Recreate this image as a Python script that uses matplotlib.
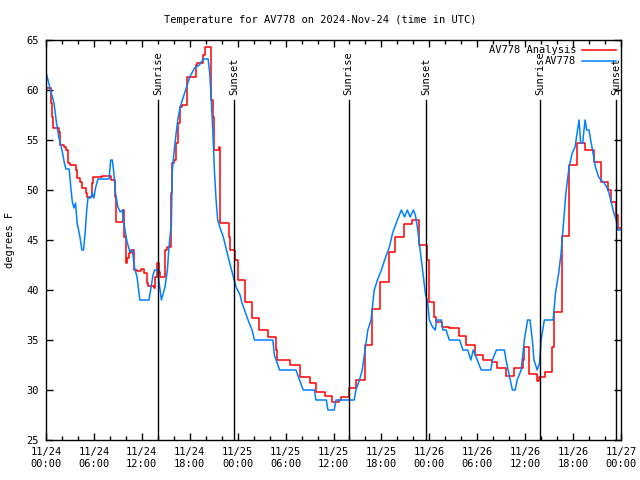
import matplotlib
matplotlib.use("Agg")
import matplotlib.pyplot as plt
from matplotlib.ticker import MultipleLocator

# hours since 11/24 00:00 UTC
obs_hours = [0.0, 0.5, 1.0, 1.3, 1.6, 2.0, 2.3, 2.5, 2.9, 3.1, 3.3, 3.5, 3.7, 3.9, 4.25,
             4.5, 4.7, 4.9, 5.1, 5.25, 5.6, 5.8, 6.0, 6.2, 6.5, 7.9, 8.1, 8.3, 8.5, 8.7,
             9.0, 9.3, 9.6, 9.75, 10.1, 10.5, 10.8, 11.1, 11.4, 11.75, 12.9, 13.1, 13.4,
             13.6, 14.0, 14.2, 14.45, 14.9, 15.2, 15.4, 15.7, 15.8, 15.9, 16.1, 16.3, 16.5,
             16.8, 17.2, 17.6, 18.0, 18.6, 19.2, 19.7, 20.3, 20.5, 20.7, 20.9, 21.1, 21.3,
             21.5, 21.8, 22.2, 22.6, 23.0, 23.4, 23.8, 24.3, 24.5, 25.3, 25.8, 26.1, 28.4,
             28.6, 29.25, 31.3, 31.75, 32.2, 33.6, 33.8, 35.1, 35.3, 36.1, 36.3, 38.6, 38.8,
             39.25, 39.6, 39.9, 40.3, 40.7, 41.1, 41.5, 42.0, 42.4, 43.0, 43.4, 44.0, 44.5,
             44.9, 45.25, 45.6, 46.0, 46.25, 46.5, 46.8, 47.2, 47.5, 47.8, 48.0, 48.4, 48.75,
             48.9, 49.5, 49.7, 50.1, 50.5, 51.8, 52.2, 52.8, 53.2, 53.5, 54.0, 54.5, 55.7,
             55.9, 56.4, 57.4, 57.6, 58.0, 58.4, 58.75, 59.0, 59.5, 59.9, 60.3, 60.6, 60.9,
             61.1, 61.5, 61.8, 62.0, 62.4, 63.5, 63.8, 64.2, 64.5, 64.7, 64.9, 65.1, 65.3,
             65.5, 65.9, 66.25, 66.5, 66.75, 66.95, 67.2, 67.5, 67.7, 68.0, 68.2, 68.5, 68.8,
             69.2, 69.5, 69.9, 70.2, 70.5, 70.8, 71.1, 71.4, 71.6, 71.9]
obs_temps = [61.8, 60.2, 58.7, 56.8, 55.3, 54.0, 52.7, 52.1, 52.1, 50.3, 48.8, 48.2, 48.7, 46.7, 45.3,
             44.0, 44.0, 45.7, 48.0, 49.2, 49.2, 49.7, 49.2, 50.2, 51.1, 51.1, 53.0, 53.0, 51.7, 49.7,
             48.3, 47.8, 48.0, 46.7, 45.0, 43.8, 44.0, 42.2, 41.3, 39.0, 39.0, 40.0, 41.5,
             42.0, 42.0, 40.5, 39.0, 40.3, 42.0, 44.3, 46.7, 51.7, 52.7, 54.3, 55.7, 57.0,
             58.3, 59.3, 60.3, 61.3, 62.2, 62.5, 63.1, 63.1, 61.7, 59.0, 55.7, 51.7, 49.0,
             47.0, 46.2, 45.3, 44.0, 42.7, 41.5, 40.3, 39.5, 38.8, 37.0, 36.0, 35.0, 35.0,
             33.5, 32.0, 32.0, 31.0, 30.0, 30.0, 29.0, 29.0, 28.0, 28.0, 29.0, 29.0, 30.0,
             31.0, 32.0, 33.7, 36.0, 37.0, 40.0, 41.0, 42.0, 43.0, 44.3, 45.7, 47.0, 48.0,
             47.3, 48.0, 47.3, 48.0, 47.5, 46.3, 44.3, 41.7, 39.7, 38.7, 37.0, 36.3, 36.0,
             37.0, 37.0, 36.0, 36.0, 35.0, 35.0, 34.0, 34.0, 33.0, 34.0, 33.0, 32.0, 32.0,
             33.0, 34.0, 34.0, 33.0, 31.5, 30.0, 30.0, 31.0, 32.0, 35.0, 37.0, 37.0, 35.0,
             33.0, 32.0, 32.7, 35.0, 37.0, 37.0, 39.7, 41.7, 43.7, 45.7, 47.7, 49.7, 51.0,
             52.3, 53.7, 54.3, 55.7, 57.0, 54.7, 54.7, 57.0, 56.0, 56.0, 55.0, 53.7, 52.3,
             51.3, 51.0, 50.7, 50.3, 49.7, 48.7, 47.7, 47.0, 46.0, 46.0]

ana_hours = [0.0, 0.6, 0.8, 0.9, 1.6, 1.8, 2.2, 2.5, 2.75, 3.0, 3.7, 3.9, 4.25, 4.5, 5.0,
             5.1, 5.8, 5.9, 7.0, 8.1, 8.7, 8.8, 9.6, 9.75, 10.0, 10.2, 10.4, 10.7, 11.0,
             11.4, 11.9, 12.25, 12.6, 12.75, 13.5, 13.7, 13.9, 14.2, 14.3, 14.9, 15.1, 15.7,
             15.8, 16.0, 16.3, 16.5, 16.75, 17.0, 17.6, 18.75, 18.9, 19.7, 19.9, 20.6, 20.7,
             20.9, 21.0, 21.6, 21.75, 21.8, 22.9, 23.1, 23.7, 24.1, 24.9, 25.8, 26.7, 27.8,
             28.75, 28.9, 30.5, 31.8, 33.0, 33.8, 34.9, 35.8, 36.75, 36.9, 37.9, 38.8, 39.9,
             40.8, 41.8, 42.9, 43.75, 44.8, 45.8, 46.75, 47.7, 48.0, 48.6, 48.8, 49.6, 50.5,
             51.75, 52.6, 53.75, 54.7, 55.9, 56.5, 57.6, 58.6, 59.7, 59.8, 60.5, 61.5, 61.7,
             62.5, 63.4, 63.6, 64.6, 65.5, 66.5, 67.5, 68.6, 69.5, 70.4, 70.7, 71.4, 71.6, 72.0]
ana_temps = [60.2, 58.7, 57.3, 56.2, 55.8, 54.5, 54.3, 54.0, 52.7, 52.5, 52.0, 51.2, 50.8, 50.2, 49.7,
             49.3, 50.7, 51.3, 51.4, 51.0, 49.3, 46.8, 48.0, 45.3, 42.7, 43.2, 43.7, 44.0, 42.0,
             41.9, 42.1, 41.7, 40.7, 40.4, 40.2, 41.3, 42.7, 41.8, 41.3, 44.0, 44.3, 49.7,
             52.7, 53.0, 54.7, 56.7, 58.3, 58.5, 61.3, 62.5, 62.7, 63.5, 64.3, 61.7, 59.0,
             57.3, 54.0, 54.3, 50.3, 46.7, 45.3, 44.0, 43.0, 41.0, 38.8, 37.2, 36.0, 35.3,
             34.0, 33.0, 32.5, 31.3, 30.7, 29.8, 29.4, 28.8, 29.0, 29.3, 30.2, 31.0, 34.5,
             38.1, 40.8, 43.8, 45.3, 46.6, 47.0, 44.5, 43.0, 38.8, 37.3, 36.8, 36.3, 36.2,
             35.4, 34.5, 33.5, 33.0, 32.8, 32.2, 31.4, 32.2, 33.0, 34.3, 31.6, 30.9, 31.3,
             31.8, 34.3, 37.8, 45.4, 52.5, 54.7, 54.0, 52.8, 50.8, 50.0, 48.8, 47.5, 46.2, 46.2]

sun_hours = [14.0, 23.56, 37.9, 47.6, 61.9, 71.4]
sun_labels = ["Sunrise", "Sunset", "Sunrise", "Sunset", "Sunrise", "Sunset"]

tick_hours = list(range(0, 73, 6))
tick_labels = ["11/24\n00:00", "11/24\n06:00", "11/24\n12:00", "11/24\n18:00",
               "11/25\n00:00", "11/25\n06:00", "11/25\n12:00", "11/25\n18:00",
               "11/26\n00:00", "11/26\n06:00", "11/26\n12:00", "11/26\n18:00",
               "11/27\n00:00"]

plt.rcParams['font.family'] = ['DejaVu Sans Mono']
plt.rcParams['font.size'] = 7.5

fig = plt.figure(figsize=(6.4, 4.8), dpi=100)
ax = fig.add_axes([46/640, 40/480, 575/640, 400/480])

ax.plot(ana_hours, ana_temps, color='#ff0000', lw=1.1, drawstyle='steps-post',
        label='AV778 Analysis')
ax.plot(obs_hours, obs_temps, color='#0080ff', lw=1.1, label='AV778')

for h, lab in zip(sun_hours, sun_labels):
    ax.plot([h, h], [25, 59], color='black', lw=1)
    ax.text(h, 59.5, lab, rotation=90, ha='center', va='bottom', fontsize=7.5)

ax.set_xlim(0, 72)
ax.set_ylim(25, 65)
ax.set_xticks(tick_hours)
ax.set_xticklabels(tick_labels)
ax.xaxis.set_minor_locator(MultipleLocator(2))
ax.yaxis.set_major_locator(MultipleLocator(5))
ax.tick_params(which='both', direction='in', top=True, right=True, width=1)
ax.tick_params(which='major', length=5, pad=5)
ax.tick_params(which='minor', length=3)
for s in ax.spines.values():
    s.set_linewidth(1)

ax.set_ylabel('degrees F', labelpad=8)
fig.text(0.5, 1 - 20/480, 'Temperature for AV778 on 2024-Nov-24 (time in UTC)',
         ha='center', va='center', fontsize=7.5)

leg = ax.legend(loc='upper right', frameon=False, markerfirst=False, handlelength=3.2,
                borderaxespad=0.1, labelspacing=0.1, handletextpad=0.6)
for t in leg.get_texts():
    t.set_ha('right')

fig.savefig('out.png', dpi=100)
